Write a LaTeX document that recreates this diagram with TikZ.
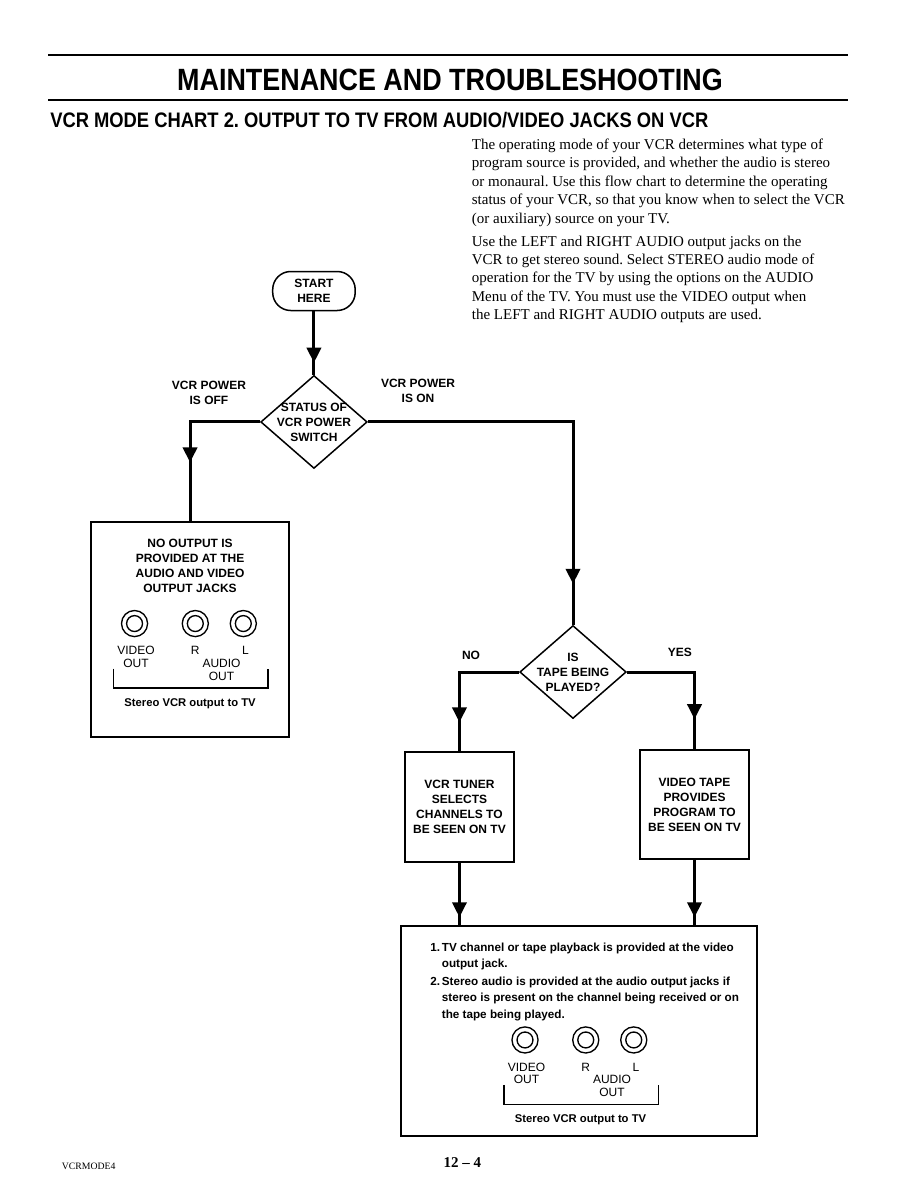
\documentclass[tikz,border=0pt]{standalone}
\usepackage{fontspec}
\setmainfont{Liberation Serif}
\newfontfamily\hv{Liberation Sans}
\newfontfamily\hvcond[FakeStretch=0.875]{Liberation Sans}
\usetikzlibrary{arrows.meta, positioning, shapes.geometric, decorations.markings}
\frenchspacing

\begin{document}
\begin{tikzpicture}[x=1pt, y=-1pt,
    flow/.style={line width=2pt},
    tipat/.style={postaction={decorate}, decoration={markings,
        mark=at position -#1 with {\arrow{Triangle[width=9.5pt, length=10pt]}}}},
    lbl/.style={font=\hv\bfseries\fontsize{8}{10}\selectfont, align=center, inner sep=0pt},
    jacklbl/.style={font=\hv\fontsize{8}{9}\selectfont, inner sep=0pt},
    box/.style={draw, line width=1pt, inner sep=0pt},
    decision/.style={diamond, draw, line width=1pt, inner sep=0pt, minimum width=71pt, minimum height=62pt},
    terminal/.style={draw, line width=1pt, rounded corners=12pt, minimum width=55pt, minimum height=26pt}
]
\useasboundingbox (0,0) rectangle (612,792);

% page heading
\draw[line width=1.3pt] (32,36.7) -- (565.3,36.7);
\draw[line width=1.3pt] (32,66.7) -- (565.3,66.7);
\node[font=\hvcond\bfseries\fontsize{20.5}{24}\selectfont, inner sep=0pt] (title) at (300,53.3) {MAINTENANCE AND TROUBLESHOOTING};
\node[font=\hvcond\bfseries\fontsize{14}{16}\selectfont, inner sep=0pt, anchor=west] (subtitle) at (33.3,80) {VCR MODE CHART 2. OUTPUT TO TV FROM AUDIO/VIDEO JACKS ON VCR};

% explanation
\node[anchor=north west, inner sep=0pt, align=left, font=\fontsize{10}{12.3}\selectfont] (intro) at (314.4,92.3)
  {The operating mode of your VCR determines what type of\\
   program source is provided, and whether the audio is stereo\\
   or monaural. Use this flow chart to determine the operating\\
   status of your VCR, so that you know when to select the VCR\\
   (or auxiliary) source on your TV.\\[3pt]
   Use the LEFT and RIGHT AUDIO output jacks on the\\
   VCR to get stereo sound. Select STEREO audio mode of\\
   operation for the TV by using the options on the AUDIO\\
   Menu of the TV. You must use the VIDEO output when\\
   the LEFT and RIGHT AUDIO outputs are used.};

% start and power switch
\node[terminal, lbl] (start) at (209.3,194) {START\\HERE};
\node[decision] (power) at (209.3,281.3) {};
\node[lbl] (powertxt) at (power) {STATUS OF\\VCR POWER\\SWITCH};
\node[lbl] (offlbl) at (139.3,262) {VCR POWER\\IS OFF};
\node[lbl] (onlbl) at (278.7,260.7) {VCR POWER\\IS ON};

% power off
\node[box, minimum width=132pt, minimum height=143.3pt] (offbox) at (126.7,419.7) {};
\node[lbl] (offtxt) at (126.7,377) {NO OUTPUT IS\\PROVIDED AT THE\\AUDIO AND VIDEO\\OUTPUT JACKS};

% power on
\node[decision] (tape) at (382,448) {};
\node[lbl] (tapetxt) at (tape) {IS\\TAPE BEING\\PLAYED?};
\node[lbl] (nolbl) at (314,436.7) {NO};
\node[lbl] (yeslbl) at (453.3,434.7) {YES};

\node[box, lbl, minimum width=72.7pt, minimum height=73.3pt] (tuner) at (306.3,538) {VCR TUNER\\SELECTS\\CHANNELS TO\\BE SEEN ON TV};
\node[box, lbl, minimum width=72.7pt, minimum height=72.7pt] (vtape) at (463,536.3) {VIDEO TAPE\\PROVIDES\\PROGRAM TO\\BE SEEN ON TV};

\node[box, minimum width=237.3pt, minimum height=140pt] (result) at (386,687.3) {};
\node[anchor=north west, inner sep=0pt, align=left, font=\hv\bfseries\fontsize{7.8}{10.8}\selectfont] (resulttxt) at (286.7,628.2)
  {\makebox[7.7pt][l]{1.}TV channel or tape playback is provided at the video\\
   \hspace*{7.7pt}output jack.\\[1.5pt]
   \makebox[7.7pt][l]{2.}Stereo audio is provided at the audio output jacks if\\
   \hspace*{7.7pt}stereo is present on the channel being received or on\\
   \hspace*{7.7pt}the tape being played.};

% output jacks
\foreach \n/\p in {a/{89.7,415.7}, b/{350,693.3}} {
  \begin{scope}[shift={(\p)}]
    \foreach \x in {0, 40.5, 72.5}
      \draw[line width=0.9pt] (\x,0) circle[radius=8.7pt] (\x,0) circle[radius=5.3pt];
    \node[jacklbl] (\n video) at (1,18) {VIDEO};
    \node[jacklbl] (\n vout) at (1,26.6) {OUT};
    \node[jacklbl] (\n r) at (40.5,18) {R};
    \node[jacklbl] (\n l) at (74,18) {L};
    \node[jacklbl] (\n audio) at (58,26.3) {AUDIO};
    \node[jacklbl] (\n aout) at (58,35) {OUT};
    \draw[line width=0.8pt] (-14,30) -- (-14,43) -- (89,43) -- (89,30);
    \node[font=\hv\bfseries\fontsize{7.5}{9}\selectfont, inner sep=0pt] (\n cap) at (37,53.3) {Stereo VCR output to TV};
  \end{scope}
}

% connectors
\draw[flow, tipat=8pt] (start) -- (power);
\draw[flow, tipat=39.3pt] (power.west) -| (offbox.north);
\draw[flow, tipat=27.3pt] (power.east) -| (tape.north);
\draw[flow, tipat=19.3pt] (tape.west) -| (tuner.north);
\draw[flow, tipat=20pt] (tape.east) -| (vtape.north);
\draw[flow, tipat=5.3pt] (tuner) -- (tuner |- result.north);
\draw[flow, tipat=5.3pt] (vtape) -- (vtape |- result.north);

% footer
\node[font=\fontsize{6.5}{8}\selectfont, anchor=west, inner sep=0pt] (code) at (41.1,777.3) {VCRMODE4};
\node[font=\bfseries\fontsize{10}{12}\selectfont, inner sep=0pt] (page) at (308.3,775.1) {12 -- 4};
\end{tikzpicture}
\end{document}
